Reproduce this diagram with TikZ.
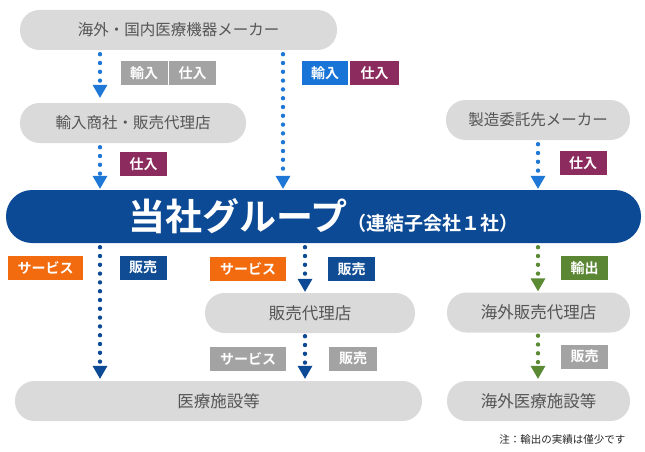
\documentclass[tikz,border=0pt]{standalone}
\usepackage{fontspec}
\setmainfont{Noto Sans CJK JP}[BoldFont={Noto Sans CJK JP Bold}]
\usetikzlibrary{arrows.meta}
\definecolor{pillgray}{HTML}{DADADA}
\definecolor{pilltext}{HTML}{555555}
\definecolor{barblue}{HTML}{0D4A96}
\definecolor{arrowblue}{HTML}{1F78D6}
\definecolor{arrowgreen}{HTML}{5B8A34}
\definecolor{taggray}{HTML}{A3A3A3}
\definecolor{tagblue}{HTML}{1874D6}
\definecolor{tagpurple}{HTML}{8C2B5E}
\definecolor{tagorange}{HTML}{F26C0F}
\definecolor{tagnavy}{HTML}{0F4C93}
\definecolor{taggreen}{HTML}{5B8633}

\begin{document}
\begin{tikzpicture}[
    x=1pt, y=-1pt,
    pill/.style={fill=pillgray, text=pilltext, rounded corners=19.5pt,
        minimum height=40pt, inner sep=0pt, font=\fontsize{15.5}{16}\selectfont},
    lowpill/.style={pill, font=\fontsize{16.5}{17}\selectfont},
    tag/.style={fill=#1, text=white, minimum width=47pt, minimum height=24pt,
        inner sep=0pt, font=\bfseries\fontsize{14}{14}\selectfont},
    flow/.style={draw=#1, line width=4.4pt, line cap=round, dash pattern=on 0pt off 8.8pt,
        -{Triangle[width=15pt,length=13pt,line width=0pt]}},
    ]
    \useasboundingbox (0,0) rectangle (645,452);

    % suppliers
    \node[pill, minimum width=317pt] (maker) at (178.5,30) {海外・国内医療機器メーカー};
    \node[pill, minimum width=226pt] (importer) at (133,123) {輸入商社・販売代理店};
    \node[pill, minimum width=184pt] (oem) at (538,120) {製造委託先メーカー};

    % group
    \node[fill=barblue, rounded corners=26pt, minimum width=635pt, minimum height=53pt,
        inner sep=0pt, text=white, font=\bfseries] (group) at (323.5,216.5)
        {{\fontsize{37}{37}\selectfont 当社グループ}{\fontsize{19}{19}\selectfont （連結子会社１社）}};

    % customers
    \node[lowpill, minimum width=210pt] (dealer) at (310,313) {販売代理店};
    \node[lowpill, minimum width=183pt] (ovdealer) at (538.5,312.5) {海外販売代理店};
    \node[lowpill, minimum width=407pt] (facility) at (218.5,401) {医療施設等};
    \node[lowpill, minimum width=183pt] (ovfacility) at (538.5,401) {海外医療施設等};

    \node[anchor=east, text=black!85, font=\fontsize{10.5}{11}\selectfont] (note) at (629,440)
        {注：輸出の実績は僅少です};

    \coordinate (colA) at (100,0);
    \coordinate (colB) at (283,0);
    \coordinate (colC) at (305,0);
    \coordinate (colD) at (538,0);

    % flows
    \draw[flow=arrowblue, shorten <=4pt, shorten >=5pt] (maker.south -| colA) -- (importer.north -| colA);
    \draw[flow=arrowblue, shorten <=4pt, shorten >=1pt] (maker.south -| colB) -- (group.north -| colB);
    \draw[flow=arrowblue, shorten <=4pt, shorten >=1pt] (importer.south -| colA) -- (group.north -| colA);
    \draw[flow=arrowblue, shorten <=4pt, shorten >=1pt] (oem.south -| colD) -- (group.north -| colD);
    \draw[flow=barblue, shorten <=4pt, shorten >=2pt] (group.south -| colA) -- (facility.north -| colA);
    \draw[flow=barblue, shorten <=4pt, shorten >=1pt] (group.south -| colC) -- (dealer.north -| colC);
    \draw[flow=barblue, shorten <=3pt, shorten >=2pt] (dealer.south -| colC) -- (facility.north -| colC);
    \draw[flow=arrowgreen, shorten <=4pt, shorten >=1pt] (group.south -| colD) -- (ovdealer.north -| colD);
    \draw[flow=arrowgreen, shorten <=3pt, shorten >=2pt] (ovdealer.south -| colD) -- (ovfacility.north -| colD);

    % tags
    \node[tag=taggray] (impA) at (144,73) {輸入};
    \node[tag=taggray] (buyA) at (192.5,73) {仕入};
    \node[tag=tagblue, minimum width=46pt] (impB) at (325,73) {輸入};
    \node[tag=tagpurple, minimum width=49pt] (buyB) at (374.5,73) {仕入};
    \node[tag=tagpurple] (buyC) at (143.5,164) {仕入};
    \node[tag=tagpurple] (buyD) at (583,163) {仕入};
    \node[tag=tagorange, minimum width=75pt] (servA) at (45.5,267.5) {サービス};
    \node[tag=tagnavy] (saleA) at (143,267.5) {販売};
    \node[tag=tagorange, minimum width=76pt] (servB) at (248,269) {サービス};
    \node[tag=tagnavy] (saleB) at (351.5,269) {販売};
    \node[tag=taggreen] (expA) at (584.5,268) {輸出};
    \node[tag=taggray, minimum width=76pt] (servC) at (248,358.5) {サービス};
    \node[tag=taggray, minimum width=48pt] (saleC) at (353,358.5) {販売};
    \node[tag=taggray] (saleD) at (584.5,356.5) {販売};
\end{tikzpicture}
\end{document}
